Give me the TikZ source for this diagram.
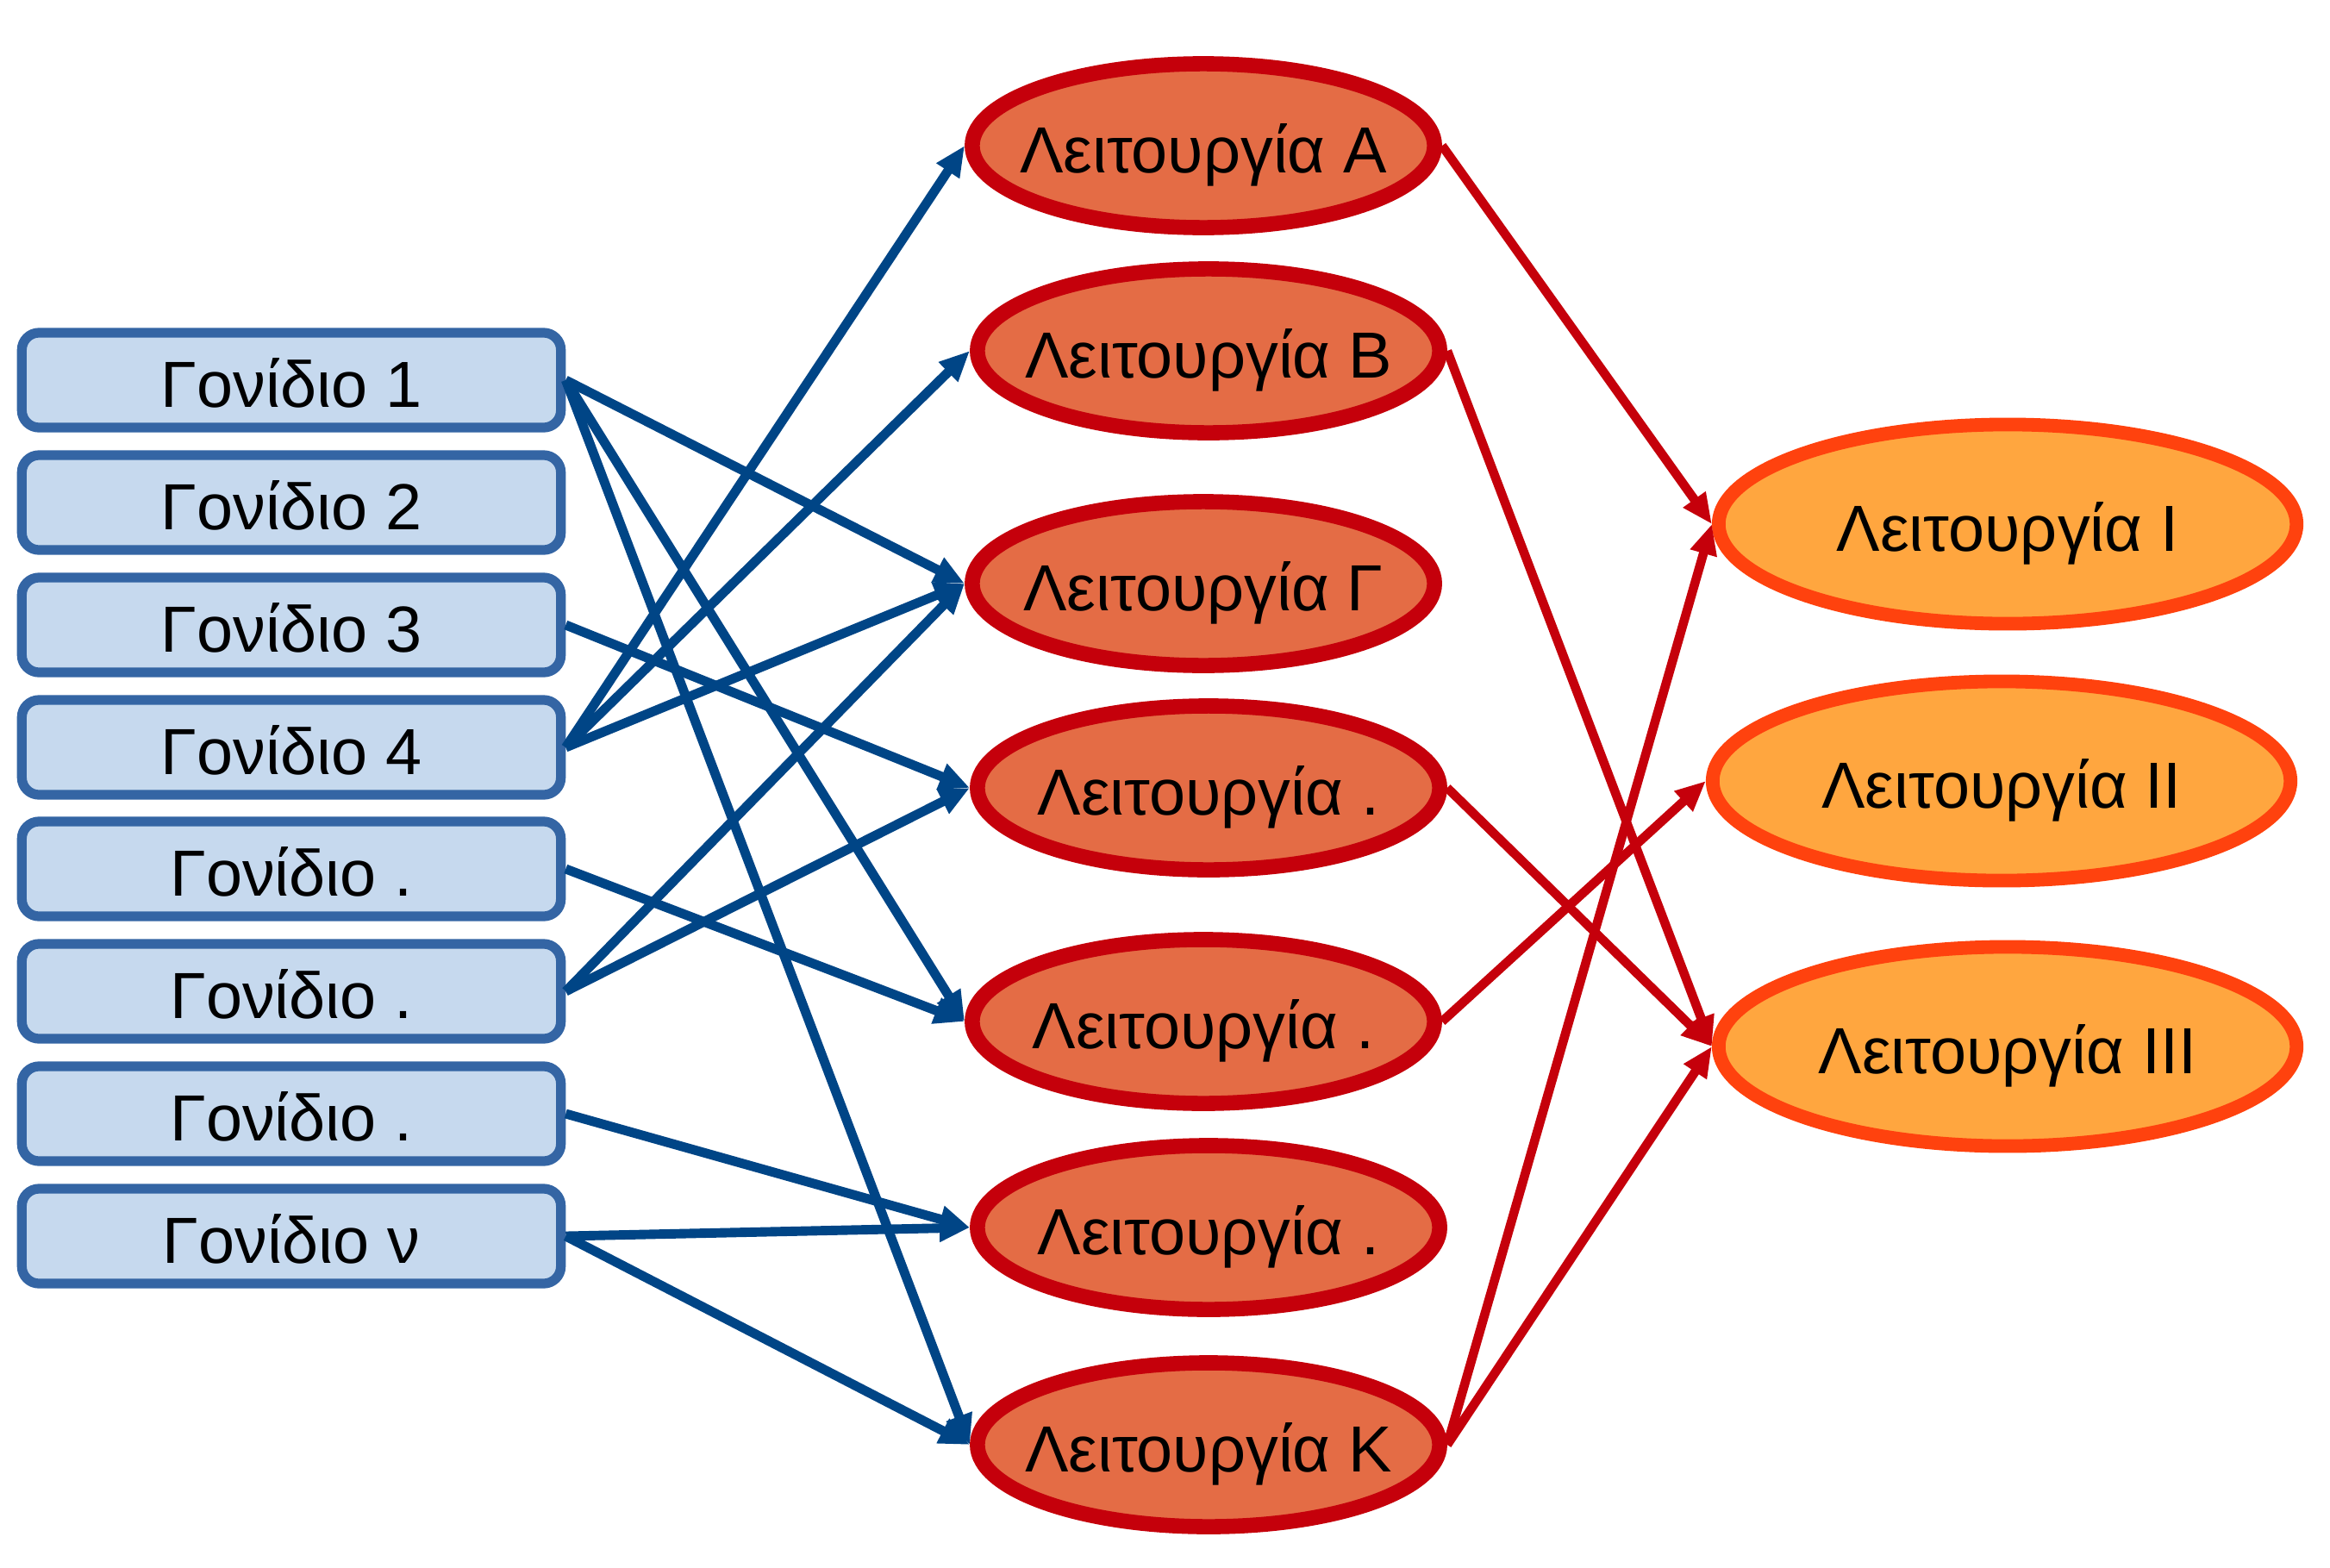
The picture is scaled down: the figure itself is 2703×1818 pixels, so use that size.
\documentclass[tikz,border=0pt]{standalone}
\usepackage{fontspec}
\setmainfont{Liberation Sans}
\usetikzlibrary{shapes.geometric,arrows.meta}
\definecolor{boxfill}{HTML}{C6D9EE}
\definecolor{boxline}{HTML}{3465A4}
\definecolor{bluearrow}{HTML}{004586}
\definecolor{funcfill}{HTML}{E46C45}
\definecolor{funcline}{HTML}{C5000B}
\definecolor{topfill}{HTML}{FFA63F}
\definecolor{topline}{HTML}{FF420E}
\newcommand{\zw}[1]{\makebox[0pt]{#1}}
\tikzset{
  txt/.style={font=\fontsize{21.5}{24}\selectfont, text height=18pt, text depth=0pt},
  genebox/.style={txt, draw=boxline, fill=boxfill, line width=3.2pt, rounded corners=0.2cm,
    minimum width=6.25cm, minimum height=1.10cm, inner sep=0pt},
  funcell/.style={txt, ellipse, draw=funcline, fill=funcfill, line width=5pt,
    minimum width=5.36cm, minimum height=1.90cm, inner sep=0pt},
  topell/.style={txt, ellipse, draw=topline, fill=topfill, line width=4.5pt,
    minimum width=6.70cm, minimum height=2.31cm, inner sep=0pt},
  bluelink/.style={draw=bluearrow, line width=3.1pt, -{Triangle[length=10pt,width=8.5pt]}},
  redlink/.style={draw=funcline, line width=3pt, -{Triangle[length=10pt,width=8.5pt]}},
}
\begin{document}
\begin{tikzpicture}[x=0.01cm,y=-0.01cm]
\useasboundingbox (0,0) rectangle (2703,1818);
% gene boxes
\node[genebox] (g1) at (338,441) {Γονίδιο 1};
\node[genebox] (g2) at (338,583) {Γονίδιο 2};
\node[genebox] (g3) at (338,725) {Γονίδιο 3};
\node[genebox] (g4) at (338,867) {Γονίδιο 4};
\node[genebox] (g5) at (338,1008) {Γονίδιο .};
\node[genebox] (g6) at (338,1150) {Γονίδιο .};
\node[genebox] (g7) at (338,1292) {Γονίδιο .};
\node[genebox] (g8) at (338,1434) {Γονίδιο ν};
% function ellipses
\node[funcell] (fa) at (1396,169) {\zw{Λειτουργία Α}};
\node[funcell] (fb) at (1402,407) {\zw{Λειτουργία Β}};
\node[funcell] (fg) at (1396,677) {\zw{Λειτουργία Γ}};
\node[funcell] (f4) at (1402,914) {\zw{Λειτουργία .}};
\node[funcell] (f5) at (1396,1185) {\zw{Λειτουργία .}};
\node[funcell] (f6) at (1402,1424) {\zw{Λειτουργία .}};
\node[funcell] (fk) at (1402,1676) {\zw{Λειτουργία Κ}};
% top-level ellipses
\node[topell] (t1) at (2329,608) {\zw{Λειτουργία Ι}};
\node[topell] (t2) at (2322,906) {\zw{Λειτουργία ΙΙ}};
\node[topell] (t3) at (2329,1214) {\zw{Λειτουργία ΙΙΙ}};
% blue links
\draw[bluelink] (g1.east) -- (fg.west);
\draw[bluelink] (g1.east) -- (f5.west);
\draw[bluelink] (g1.east) -- (fk.west);
\draw[bluelink] (g3.east) -- (f4.west);
\draw[bluelink] (g4.east) -- (fa.west);
\draw[bluelink] (g4.east) -- (fb.west);
\draw[bluelink] (g4.east) -- (fg.west);
\draw[bluelink] (g5.east) -- (f5.west);
\draw[bluelink] (g6.east) -- (fg.west);
\draw[bluelink] (g6.east) -- (f4.west);
\draw[bluelink] (g7.east) -- (f6.west);
\draw[bluelink] (g8.east) -- (f6.west);
\draw[bluelink] (g8.east) -- (fk.west);
% red links
\draw[redlink] (fa.east) -- (t1.west);
\draw[redlink] (fb.east) -- (t3.west);
\draw[redlink] (f4.east) -- (t3.west);
\draw[redlink] (f5.east) -- (t2.west);
\draw[redlink] (fk.east) -- (t1.west);
\draw[redlink] (fk.east) -- (t3.west);
\end{tikzpicture}
\end{document}
